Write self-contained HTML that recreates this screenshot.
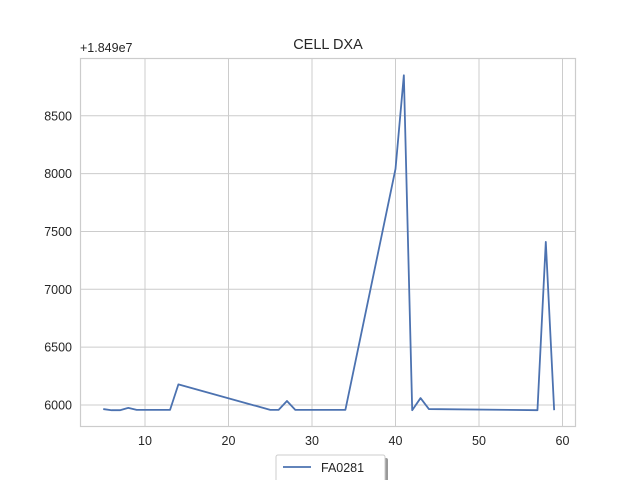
<!DOCTYPE html>
<html><head><meta charset="utf-8"><style>
body{margin:0;background:#fff;font-family:"Liberation Sans",sans-serif;}
svg text{font-family:"Liberation Sans",sans-serif;fill:#262626;}
</style></head><body>
<svg id="chart" width="640" height="480">
<text x="328" y="49" text-anchor="middle" font-size="14.5">CELL DXA</text>
<text x="80" y="52" font-size="12.5">+1.849e7</text>
<g id="grid"></g>
<rect x="80.5" y="58.5" width="495" height="368" fill="none" stroke="#ccc" stroke-width="1.2"/>
<g id="series"></g>
<g>
<rect x="279" y="458" width="109" height="27" fill="#999" rx="2"/>
<rect x="276" y="455" width="109" height="27" fill="#fff" stroke="#ccc" rx="2"/>
<line x1="283" y1="467" x2="311" y2="467" stroke="#4c72b0" stroke-width="1.8"/>
<text x="321" y="472" font-size="12.5">FA0281</text>
</g>
</svg>
<script>
const xs=[5,6,7,8,9,13,14,25,26,27,28,34,40,41,42,43,44,57,58,59];
const ys=[5965,5955,5955,5975,5958,5958,6178,5958,5958,6035,5958,5958,8040,8850,5955,6060,5965,5955,7410,5955];
const xTicks=[10,20,30,40,50,60];
const yTicks=[6000,6500,7000,7500,8000,8500];
const sx=v=>61.5+(v)*8.35;
const sy=v=>405-(v-6000)*0.1157;
const NS="http://www.w3.org/2000/svg";
const g=document.getElementById('grid');
function mk(t,a,p){const e=document.createElementNS(NS,t);for(const k in a)e.setAttribute(k,a[k]);p.appendChild(e);return e;}
xTicks.forEach(t=>{
 const l=mk('line',{x1:sx(t),x2:sx(t),y1:58,y2:427,stroke:'#ccc','stroke-width':1},g);
 
 
 const tx=mk('text',{x:sx(t),y:445,'text-anchor':'middle','font-size':12.5},g);
 tx.textContent=t;
 
 
});
yTicks.forEach(t=>{
 const l=mk('line',{x1:80,x2:576,y1:sy(t),y2:sy(t),stroke:'#ccc','stroke-width':1},g);
 
 
 const tx=mk('text',{x:72,y:sy(t)+4.5,'text-anchor':'end','font-size':12.5},g);
 tx.textContent=t;
 
 
});
const s=document.getElementById('series');
const p=mk('polyline',{points:xs.map((x,i)=>sx(x)+','+sy(ys[i])).join(' '),fill:'none',stroke:'#4c72b0','stroke-width':1.8,'stroke-linejoin':'round'},s);


</script>
</body></html>
